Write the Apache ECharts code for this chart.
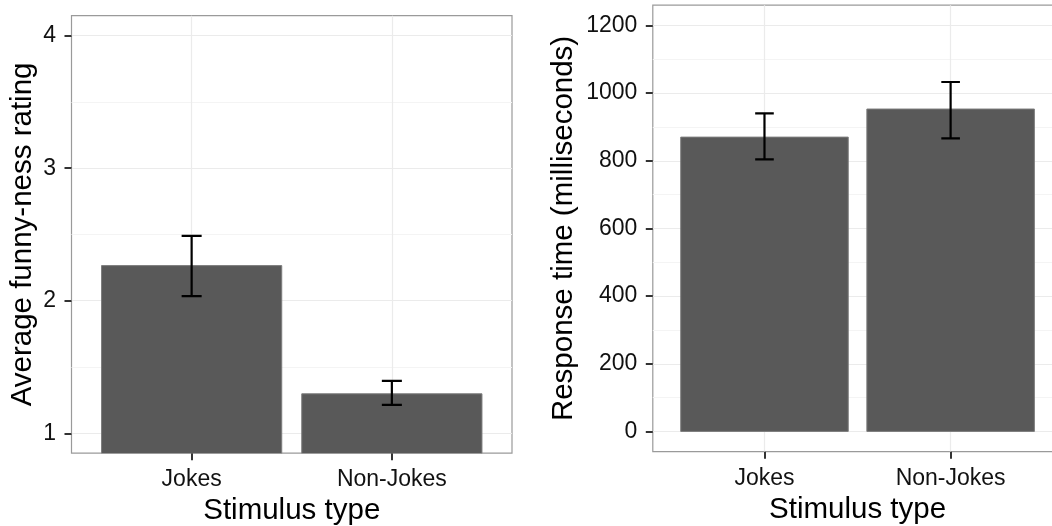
<!DOCTYPE html>
<html>
<head>
<meta charset="utf-8">
<script src="https://cdn.jsdelivr.net/npm/echarts@6/dist/echarts.min.js"></script>
<style>
html,body{margin:0;padding:0;background:#fff;}
#chart{width:1052px;height:526px;}
</style>
</head>
<body>
<div id="chart"></div>
<script>
// ---- data ----
const categories = ['Jokes', 'Non-Jokes'];
const catPos = [1, 2];
const funnyMean = [2.265, 1.298];
const funnyLow = [2.035, 1.215];
const funnyHigh = [2.49, 1.395];
const rtMean = [870, 953];
const rtLow = [804, 866];
const rtHigh = [940, 1033];
const funnyTicks = [1, 2, 3, 4];
const funnyMinorTicks = [1.5, 2.5, 3.5];
const rtTicks = [0, 200, 400, 600, 800, 1000, 1200];
const rtMinorTicks = [100, 300, 500, 700, 900, 1100];

const FONT = 'Liberation Sans, Arial, Helvetica, sans-serif';
const TXT = '#111';

const chart = echarts.init(document.getElementById('chart'), null, {renderer: 'canvas'});

function barSeries(gi, means) {
  return {
    type: 'custom',
    xAxisIndex: gi, yAxisIndex: gi * 2,
    clip: true,
    data: catPos.map((p, i) => [p, means[i]]),
    renderItem(params, api) {
      const x = api.value(0), y = api.value(1);
      const top = api.coord([x, y]);
      const base = api.coord([x, 0]);
      const w = api.size([0.9, 0])[0];
      return {
        type: 'rect',
        shape: {x: top[0] - w / 2, y: top[1], width: w, height: base[1] - top[1]},
        style: {fill: '#595959', stroke: '#7d7d7d', lineWidth: 1}
      };
    }
  };
}

function errSeries(gi, lows, highs) {
  return {
    type: 'custom',
    xAxisIndex: gi, yAxisIndex: gi * 2,
    clip: true,
    z: 5,
    data: catPos.map((p, i) => [p, lows[i], highs[i]]),
    renderItem(params, api) {
      const x = api.value(0);
      const lo = api.coord([x, api.value(1)]);
      const hi = api.coord([x, api.value(2)]);
      const hw = api.size([0.1, 0])[0] / 2;
      const st = {stroke: '#000', lineWidth: 2.2};
      return {
        type: 'group',
        children: [
          {type: 'line', shape: {x1: lo[0], y1: lo[1], x2: hi[0], y2: hi[1]}, style: st},
          {type: 'line', shape: {x1: hi[0] - hw, y1: hi[1], x2: hi[0] + hw, y2: hi[1]}, style: st},
          {type: 'line', shape: {x1: lo[0] - hw, y1: lo[1], x2: lo[0] + hw, y2: lo[1]}, style: st}
        ]
      };
    }
  };
}

function xAxis(gi) {
  return {
    type: 'value', gridIndex: gi, min: 0.4, max: 2.6,
    name: 'Stimulus type', nameLocation: 'middle', nameGap: 43,
    nameTextStyle: {fontFamily: FONT, fontSize: 29.5, color: '#000'},
    axisLine: {show: false, onZero: false},
    axisTick: {show: true, customValues: catPos, length: 7, lineStyle: {color: '#333', width: 2}},
    axisLabel: {customValues: catPos, formatter: v => categories[Math.round(v) - 1] || '',
      fontFamily: FONT, fontSize: 23, color: TXT, margin: 15},
    splitLine: {show: true, lineStyle: {color: '#ebebeb', width: 1.2}}
  };
}

function yAxisMajor(gi, min, max, ticks, name, gap) {
  return {
    type: 'value', gridIndex: gi, min: min, max: max, position: 'left',
    name: name, nameLocation: 'middle', nameGap: gap,
    nameTextStyle: {fontFamily: FONT, fontSize: 29.5, color: '#000'},
    axisLine: {show: false, onZero: false},
    axisTick: {show: true, customValues: ticks, length: 7, lineStyle: {color: '#333', width: 2}},
    axisLabel: {customValues: ticks, formatter: v => String(v), fontFamily: FONT, fontSize: 23, color: TXT, margin: 15.5},
    splitLine: {show: true, lineStyle: {color: '#ebebeb', width: 1.2}}
  };
}

function yAxisMinor(gi, min, max, ticks) {
  return {
    type: 'value', gridIndex: gi, min: min, max: max, position: 'right',
    axisLine: {show: false, onZero: false},
    axisTick: {show: false, customValues: ticks},
    axisLabel: {show: false, customValues: ticks},
    splitLine: {show: true, lineStyle: {color: '#f4f4f4', width: 1}}
  };
}

const option = {
  backgroundColor: '#fff',
  animation: false,
  grid: [
    {left: 71.5, top: 15.7, width: 440.5, height: 437.5, containLabel: false, outerBoundsMode: 'none',
     show: true, borderColor: '#9a9a9a', borderWidth: 1.2, backgroundColor: '#fff'},
    {left: 652.8, top: 5.2, width: 409.5, height: 446.5, containLabel: false, outerBoundsMode: 'none',
     show: true, borderColor: '#9a9a9a', borderWidth: 1.2, backgroundColor: '#fff'}
  ],
  xAxis: [xAxis(0), xAxis(1)],
  yAxis: [
    yAxisMajor(0, 0.85, 4.15, funnyTicks, 'Average funny-ness rating', 34),
    yAxisMinor(0, 0.85, 4.15, funnyMinorTicks),
    yAxisMajor(1, -60, 1260, rtTicks, 'Response time (milliseconds)', 74),
    yAxisMinor(1, -60, 1260, rtMinorTicks)
  ],
  series: [
    barSeries(0, funnyMean),
    errSeries(0, funnyLow, funnyHigh),
    barSeries(1, rtMean),
    errSeries(1, rtLow, rtHigh)
  ]
};
chart.setOption(option);
</script>
</body>
</html>
